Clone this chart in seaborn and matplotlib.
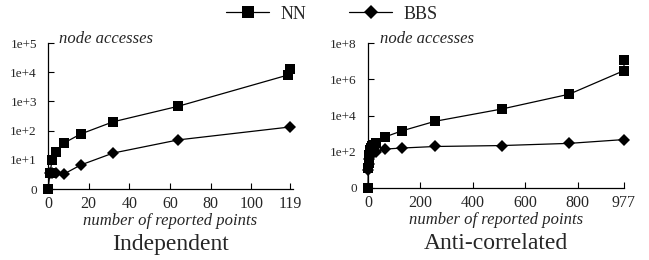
import matplotlib
matplotlib.use('Agg')
import matplotlib.pyplot as plt
import matplotlib.ticker as mticker
from matplotlib.lines import Line2D
import seaborn as sns

sns.set_style("ticks")
plt.rcParams['font.family'] = ['Liberation Serif', 'DejaVu Serif']

# ── 数据 ──
ind_nn_x = [0, 1, 2, 4, 8, 16, 32, 64, 118, 119]
ind_nn_y = [1, 3.5, 10, 19, 38, 76, 200, 680, 8000, 12500]
ind_bbs_x = [1, 2, 4, 8, 16, 32, 64, 119]
ind_bbs_y = [3.5, 3.5, 3.5, 3.3, 6.6, 17, 48, 133]

anti_nn_x = [0, 1, 2, 3, 4, 6, 8, 12, 16, 24, 32, 64, 128, 256, 512, 768, 977, 977]
anti_nn_y = [1, 12, 25, 45, 70, 100, 130, 170, 200, 250, 320, 650, 1400, 4800,
             23000, 150000, 3e6, 1.1e7]
anti_bbs_x = [1, 2, 4, 8, 16, 32, 64, 128, 256, 512, 768, 977]
anti_bbs_y = [10, 20, 40, 60, 80, 100, 140, 160, 195, 220, 290, 470]

ind_yticks = [1, 1e1, 1e2, 1e3, 1e4, 1e5]
ind_ylabels = ['0', '1e+1', '1e+2', '1e+3', '1e+4', '1e+5']
anti_yticks = [1, 1e2, 1e4, 1e6, 1e8]
anti_ylabels = ['0', '1e+2', '1e+4', '1e+6', '1e+8']
ind_xticks = [0, 20, 40, 60, 80, 100, 119]
anti_xticks = [0, 200, 400, 600, 800, 977]

fig = plt.figure(figsize=(6.49, 2.60), dpi=100)
ax1 = fig.add_axes([48 / 649, 71 / 260, 245 / 649, 146 / 260])
ax2 = fig.add_axes([368 / 649, 72 / 260, 256 / 649, 145 / 260])


def draw(ax, nn_x, nn_y, bbs_x, bbs_y, xticks, xlim, yticks, ylabels, title):
    sns.lineplot(x=nn_x, y=nn_y, ax=ax, color='black', marker='s', markersize=7.5,
                 linewidth=0.9, estimator=None, sort=False, clip_on=False,
                 markeredgewidth=0)
    sns.lineplot(x=bbs_x, y=bbs_y, ax=ax, color='black', marker='D', markersize=6.5,
                 linewidth=0.9, estimator=None, sort=False, clip_on=False,
                 markeredgewidth=0)
    ax.set_yscale('log')
    ax.set_ylim(yticks[0], yticks[-1])
    ax.set_xlim(*xlim)
    ax.set_yticks(yticks)
    ax.set_yticklabels(ylabels)
    ax.yaxis.set_minor_locator(mticker.NullLocator())
    ax.set_xticks(xticks)
    ax.set_xticklabels([str(t) for t in xticks])
    ax.tick_params(axis='both', direction='in', length=4, width=0.8, color='black')
    ax.tick_params(axis='y', labelsize=9.5, pad=8)
    ax.tick_params(axis='x', labelsize=11.5, pad=5)
    sns.despine(ax=ax)
    for s in ['left', 'bottom']:
        ax.spines[s].set_linewidth(0.9)
        ax.spines[s].set_color('black')
    ax.set_xlabel('')
    ax.set_ylabel('')
    ax.text(0.045, 1.0, 'node accesses', transform=ax.transAxes, fontsize=12,
            style='italic', ha='left', va='baseline')
    ax.text(0.5, -0.22, 'number of reported points', transform=ax.transAxes,
            fontsize=12, style='italic', ha='center', va='center')
    ax.text(0.5, -0.38, title, transform=ax.transAxes, fontsize=17,
            ha='center', va='center')


draw(ax1, ind_nn_x, ind_nn_y, ind_bbs_x, ind_bbs_y, ind_xticks, (0, 120.5),
     ind_yticks, ind_ylabels, 'Independent')
draw(ax2, anti_nn_x, anti_nn_y, anti_bbs_x, anti_bbs_y, anti_xticks, (0, 977),
     anti_yticks, anti_ylabels, 'Anti-correlated')

handles = [
    Line2D([], [], color='black', marker='s', markersize=8, linewidth=0.9, markeredgewidth=0),
    Line2D([], [], color='black', marker='D', markersize=7, linewidth=0.9, markeredgewidth=0),
]
fig.legend(handles, ['NN', 'BBS'], loc='center', bbox_to_anchor=(0.511, 0.945),
           ncol=2, frameon=False, fontsize=13, handlelength=2.4, columnspacing=2.4,
           handletextpad=0.6)

fig.savefig('out.png', dpi=100)
